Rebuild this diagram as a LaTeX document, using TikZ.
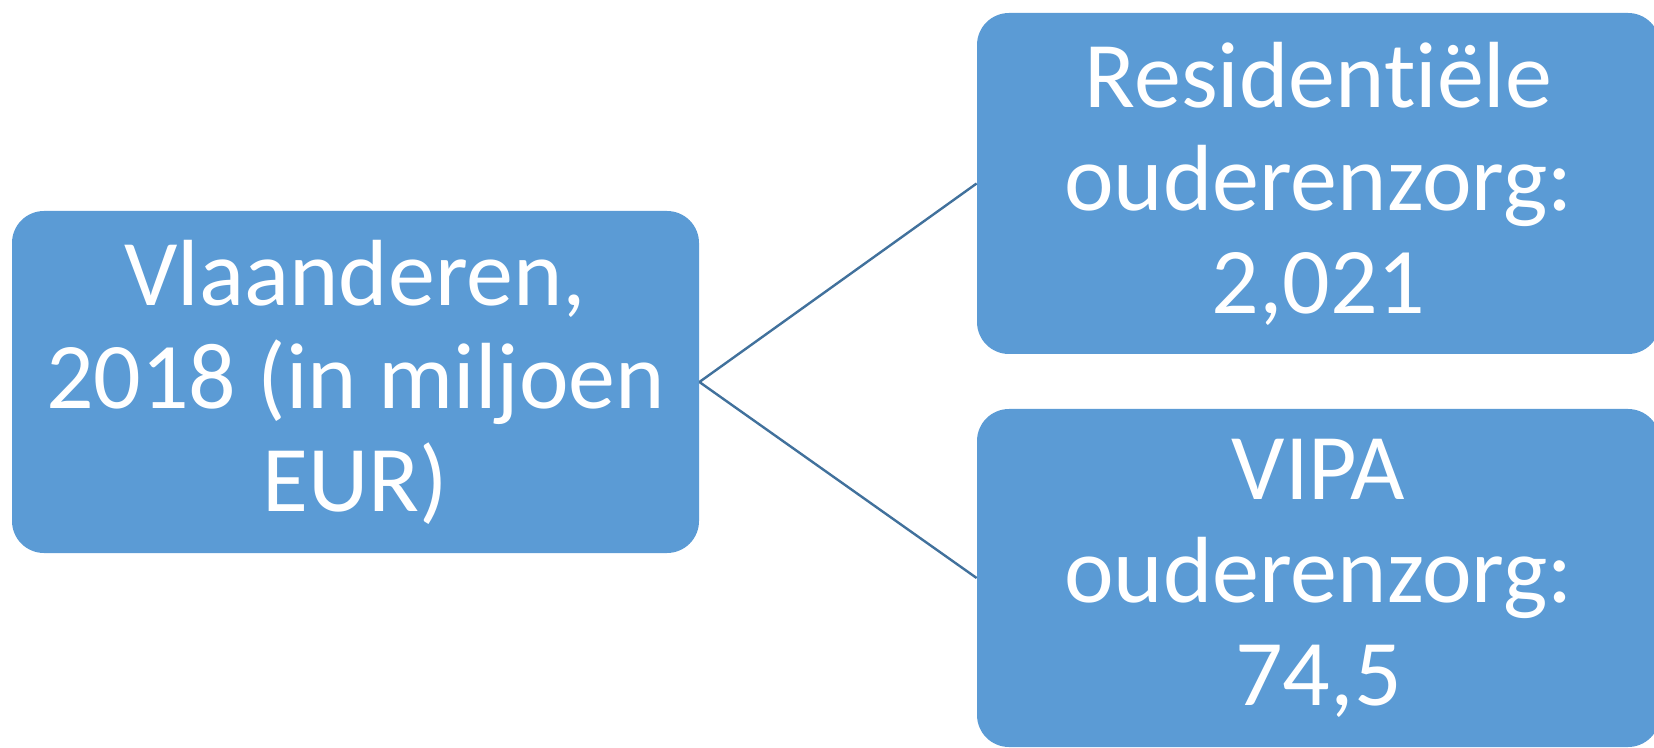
\documentclass[tikz,border=0pt]{standalone}
\usepackage{fontspec}
\setmainfont{Carlito}[Ligatures={NoCommon,NoRare,NoContextual}]
\definecolor{boxblue}{HTML}{5B9BD5}
\definecolor{lineblue}{HTML}{41719C}
\begin{document}
\begin{tikzpicture}[x=0.5pt,y=-0.5pt,
  box/.style={fill=boxblue,draw=none,rounded corners=16pt,text=white,align=center,
    font=\fontsize{47}{51.5}\selectfont,inner sep=0pt},
  link/.style={draw=lineblue,line width=1.2pt}]
\useasboundingbox (0,0) rectangle (1654,748);
\node[box,minimum width=343.5pt,minimum height=171pt] (L) at (355.5,382) {Vlaanderen,\\2018 (in miljoen\\EUR)};
\node[box,minimum width=341.5pt,minimum height=170.5pt] (T) at (1318.5,183.5) {Residentiële\\ouderenzorg:\\2,021};
\node[box,minimum width=341.5pt,minimum height=169pt] (B) at (1318.5,578) {VIPA\\ouderenzorg:\\74,5};
\draw[link] (L.east) -- (T.west);
\draw[link] (L.east) -- (B.west);
\end{tikzpicture}
\end{document}
